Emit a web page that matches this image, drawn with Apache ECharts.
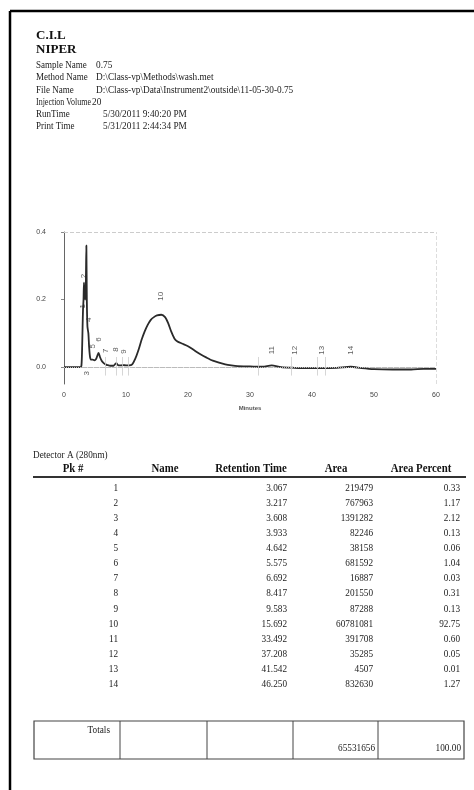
<!DOCTYPE html>
<html><head><meta charset="utf-8">
<script src="https://cdn.jsdelivr.net/npm/echarts@6/dist/echarts.min.js"></script>
<style>html,body{margin:0;padding:0;background:#fff}#c{width:474px;height:790px}</style>
</head><body><div id="c"></div>
<script>
// ---------- DATA ----------
const metaLabels = ['Sample Name','Method Name','File Name','Injection Volume','RunTime','Print Time'];
const metaValues = ['0.75','D:\\Class-vp\\Methods\\wash.met','D:\\Class-vp\\Data\\Instrument2\\outside\\11-05-30-0.75','20','5/30/2011 9:40:20 PM','5/31/2011 2:44:34 PM'];
const titleLines = ['C.I.L','NIPER'];

const times  = [0, 2.6, 2.8, 2.9, 3.0, 3.067, 3.15, 3.217, 3.3, 3.4, 3.5, 3.608, 3.68, 3.78, 3.933, 4.05, 4.2, 4.4, 4.642, 4.9, 5.2, 5.4, 5.575, 5.8, 6.1, 6.4, 6.692, 7.0, 7.5, 8.0, 8.417, 8.8, 9.2, 9.583, 10.0, 10.5, 11.0, 11.5, 12.0, 12.5, 13.0, 13.5, 14.0, 14.5, 15.0, 15.692, 16.3, 16.8, 17.3, 17.8, 18.3, 19.0, 20.0, 21.0, 22.0, 23.0, 24.0, 25.0, 26.0, 27.0, 28.0, 30.0, 32.0, 33.492, 35.0, 37.208, 39.0, 41.542, 44.0, 46.25, 48.0, 50.0, 53.0, 56.0, 58.0, 60.0];
const signal = [0, 0, 0.003, 0.04, 0.12, 0.17, 0.2, 0.25, 0.22, 0.2, 0.22, 0.36, 0.2, 0.12, 0.1, 0.06, 0.03, 0.022, 0.022, 0.02, 0.025, 0.035, 0.042, 0.03, 0.018, 0.012, 0.008, 0.006, 0.004, 0.004, 0.012, 0.005, 0.005, 0.006, 0.005, 0.005, 0.008, 0.025, 0.05, 0.08, 0.105, 0.125, 0.14, 0.148, 0.153, 0.155, 0.148, 0.13, 0.105, 0.085, 0.076, 0.07, 0.062, 0.05, 0.038, 0.028, 0.019, 0.013, 0.008, 0.005, 0.003, 0.002, 0.001, 0.005, 0.0, -0.002, -0.003, -0.003, -0.002, 0.001, -0.003, -0.006, -0.007, -0.007, -0.005, -0.005];
// integration event marks (minutes)
const eventTimes = [6.7, 8.5, 9.4, 10.3, 31.4, 36.7, 40.8, 42.2];

const peakNums = [1,2,3,4,5,6,7,8,9,10,11,12,13,14];
const retTimes = ['3.067','3.217','3.608','3.933','4.642','5.575','6.692','8.417','9.583','15.692','33.492','37.208','41.542','46.250'];
const areas    = ['219479','767963','1391282','82246','38158','681592','16887','201550','87288','60781081','391708','35285','4507','832630'];
const areaPct  = ['0.33','1.17','2.12','0.13','0.06','1.04','0.03','0.31','0.13','92.75','0.60','0.05','0.01','1.27'];
const totalArea = '65531656';
const totalPct = '100.00';

const xTicks = [0,10,20,30,40,50,60];
const yTicks = [0, 0.2, 0.4];
const detectorName = 'Detector A (280nm)';
const headers = ['Pk #','Name','Retention Time','Area','Area Percent'];

// ---------- CHART ----------
const chart = echarts.init(document.getElementById('c'), null, {renderer:'canvas'});
const serif = '"Liberation Serif","Times New Roman",serif';
const sans = '"Liberation Sans",Arial,sans-serif';
const mctx = document.createElement('canvas').getContext('2d');
function textW(s, font){ mctx.font = font; return mctx.measureText(s).width; }

function traceAt(t){
  let best = 0, d = 1e9;
  for (let i=0;i<times.length;i++){ const dd=Math.abs(times[i]-t); if(dd<d){d=dd;best=i;} }
  return signal[best];
}
const labelData = peakNums.map((p,i)=>{
  const t = parseFloat(retTimes[i]);
  let v = traceAt(t);
  if (p===1) v = v + 0.01;
  else if (p===2) v = v + 0.02;
  else if (p===3) v = -0.018;
  else if (p===10) v = v + 0.055;
  else if (p>=11) v = 0.05;
  else v = v + 0.04;
  return [t, v, p];
});

const g = [];
// page border (left + top)
g.push({type:'line', shape:{x1:10,y1:11,x2:474,y2:11}, style:{stroke:'#000',lineWidth:2.5}});
g.push({type:'line', shape:{x1:10,y1:11,x2:10,y2:790}, style:{stroke:'#000',lineWidth:2.5}});
// title block
titleLines.forEach((s,i)=>g.push({type:'text', x:36, y:36+i*13.5, style:{text:s, font:'bold 13px '+serif, fill:'#111', verticalAlign:'middle'}}));
const metaX = [96,96,96,92,103,103];
const metaFont = '10px '+serif;
metaLabels.forEach((s,i)=>{
  const y = 65.5 + i*12.2;
  const w = textW(s, metaFont);
  const sx = Math.min(0.9, 55/w);
  g.push({type:'text', x:36, y:y, scaleX:sx, style:{text:s, font:metaFont, fill:'#222', verticalAlign:'middle'}});
  g.push({type:'text', x:metaX[i], y:y, scaleX:0.93, style:{text:metaValues[i], font:metaFont, fill:'#222', verticalAlign:'middle'}});
});
// table
g.push({type:'text', x:33, y:455, scaleX:0.92, style:{text:detectorName, font:'10px '+serif, fill:'#222', verticalAlign:'middle'}});
const hdrX = [73,165,251,336,421];
headers.forEach((h,i)=>g.push({type:'text', x:hdrX[i], y:469, scaleX:0.9, style:{text:h, font:'bold 12px '+serif, fill:'#111', align:'center', verticalAlign:'middle'}}));
g.push({type:'line', shape:{x1:33,y1:477,x2:466,y2:477}, style:{stroke:'#333',lineWidth:2}});
const rowY0 = 488, rowStep = 15.1;
peakNums.forEach((p,i)=>{
  const y = rowY0 + i*rowStep;
  const st = (t,x)=>({type:'text', x:x, y:y, scaleX:0.88, style:{text:t, font:'10.5px '+serif, fill:'#222', align:'right', verticalAlign:'middle'}});
  g.push(st(String(p),118));
  g.push(st(retTimes[i],287));
  g.push(st(areas[i],373));
  g.push(st(areaPct[i],460));
});
// totals box
g.push({type:'rect', shape:{x:34,y:721,width:430,height:38}, style:{fill:'none',stroke:'#444',lineWidth:1.2}});
[120,207,293,378].forEach(x=>g.push({type:'line', shape:{x1:x,y1:721,x2:x,y2:759}, style:{stroke:'#444',lineWidth:1}}));
g.push({type:'text', x:110, y:730, scaleX:0.88, style:{text:'Totals', font:'10.5px '+serif, fill:'#222', align:'right', verticalAlign:'middle'}});
g.push({type:'text', x:375, y:748, scaleX:0.88, style:{text:totalArea, font:'10.5px '+serif, fill:'#222', align:'right', verticalAlign:'middle'}});
g.push({type:'text', x:461, y:748, scaleX:0.88, style:{text:totalPct, font:'10.5px '+serif, fill:'#222', align:'right', verticalAlign:'middle'}});
// axis title
g.push({type:'text', x:250, y:408, style:{text:'Minutes', font:'bold 6px '+sans, fill:'#555', align:'center', verticalAlign:'middle'}});

const eventLines = eventTimes.map(t=>[{coord:[t,0.03]},{coord:[t,-0.025]}]);

chart.setOption({
  backgroundColor:'#fff',
  animation:false,
  grid:{left:64, right:38, top:232, height:152},
  xAxis:{type:'value', min:0, max:60, interval:10,
    axisLine:{show:true, lineStyle:{color:'#bbb', type:'dashed', width:1}},
    axisTick:{show:false},
    axisLabel:{fontSize:7, color:'#444', fontFamily:sans, margin:8},
    splitLine:{show:false}},
  yAxis:{type:'value', min:-0.05, max:0.4,
    axisLine:{show:true, lineStyle:{color:'#666', width:1}},
    axisTick:{show:true, length:3, lineStyle:{color:'#888'}, customValues:yTicks},
    axisLabel:{fontSize:7, color:'#444', fontFamily:sans, margin:18, customValues:yTicks, formatter:v=>v.toFixed(1)},
    splitLine:{show:false}},
  series:[
    {type:'line', data:times.map((t,i)=>[t,signal[i]]), showSymbol:false, smooth:0.25,
     lineStyle:{color:'#2a2a2a', width:1.8}, z:3,
     markLine:{silent:true, symbol:'none', label:{show:false}, lineStyle:{color:'#ccc', type:'solid', width:0.8},
       data:[
         {yAxis:0, lineStyle:{color:'#bbb', type:'dotted', width:1}},
         {yAxis:0.4, lineStyle:{color:'#ccc', type:'dashed', width:1}},
         {xAxis:60, lineStyle:{color:'#ddd', type:'dashed', width:1}}
       ].concat(eventLines)}},
    {type:'scatter', data:labelData, symbolSize:0,
     label:{show:true, formatter:p=>String(p.data[2]), rotate:90, fontSize:8, color:'#333', fontFamily:sans, position:'inside'}}
  ],
  graphic:g
});
</script></body></html>
